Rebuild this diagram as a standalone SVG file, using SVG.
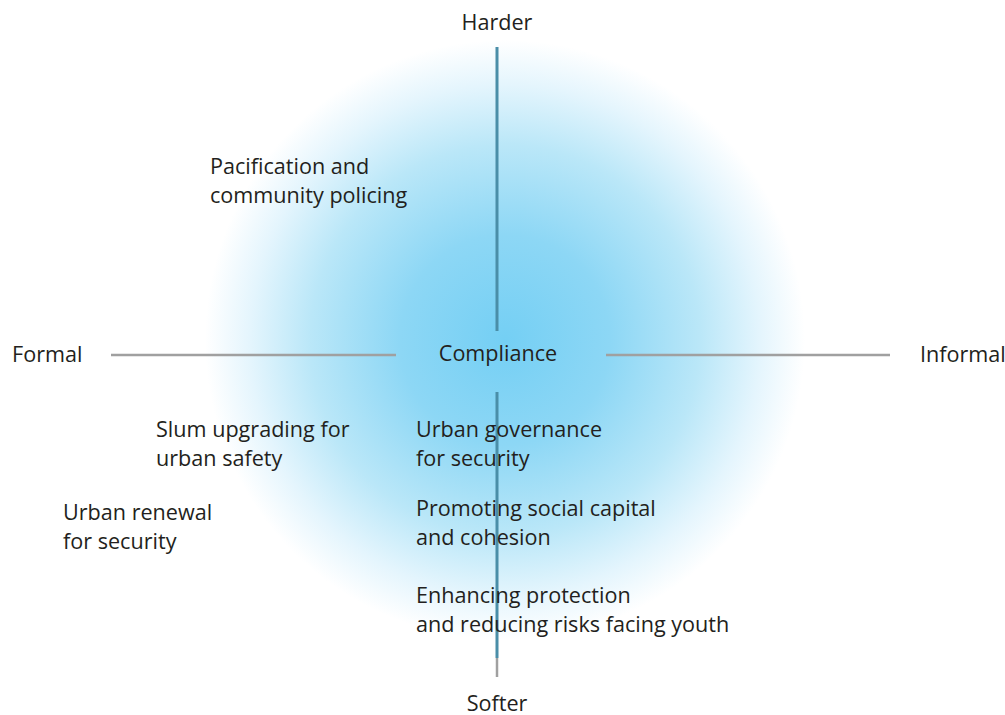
<svg xmlns="http://www.w3.org/2000/svg" width="1005" height="715" viewBox="0 0 1005 715">
<defs>
<radialGradient id="glow" cx="505" cy="340" r="300" gradientUnits="userSpaceOnUse">
<stop offset="0" stop-color="#74cff4"/>
<stop offset="0.35" stop-color="#8dd7f5"/>
<stop offset="0.65" stop-color="#bae7f8"/>
<stop offset="0.85" stop-color="#e4f5fd"/>
<stop offset="1" stop-color="#ffffff"/>
</radialGradient>
</defs>
<style>
text{font-family:"Open Sans","Liberation Sans",sans-serif;font-size:21.6px;fill:#231f20}
.ax{stroke:#4a8ea8;stroke-width:3;fill:none}
.gr{stroke:#a0a0a0;stroke-width:2.5;fill:none}
</style>
<rect width="1005" height="715" fill="#fff"/>
<circle cx="505" cy="340" r="300" fill="url(#glow)"/>
<g id="connectors">
<line class="ax" x1="497" y1="47" x2="497" y2="331"/>
<line class="ax" x1="497" y1="392" x2="497" y2="658"/>
<line class="gr" x1="497" y1="658" x2="497" y2="677"/>
<line class="gr" x1="111" y1="355" x2="396" y2="355"/>
<line class="gr" x1="606" y1="355" x2="890" y2="355"/>
</g>
<g id="harder"><text x="497" y="30" text-anchor="middle">Harder</text></g>
<g id="softer"><text x="497" y="711" text-anchor="middle">Softer</text></g>
<g id="formal"><text x="12" y="362">Formal</text></g>
<g id="informal"><text x="920" y="362">Informal</text></g>
<g id="compliance"><text x="498" y="361" text-anchor="middle">Compliance</text></g>
<g id="pacification"><text x="210" y="174">Pacification and</text><text x="210" y="203">community policing</text></g>
<g id="slum"><text x="156" y="437">Slum upgrading for</text><text x="156" y="466">urban safety</text></g>
<g id="renewal"><text x="63" y="520">Urban renewal</text><text x="63" y="549">for security</text></g>
<g id="governance"><text x="416" y="437">Urban governance</text><text x="416" y="466">for security</text></g>
<g id="social"><text x="416" y="516">Promoting social capital</text><text x="416" y="545">and cohesion</text></g>
<g id="youth"><text x="416" y="603">Enhancing protection</text><text x="416" y="632">and reducing risks facing youth</text></g>
</svg>
